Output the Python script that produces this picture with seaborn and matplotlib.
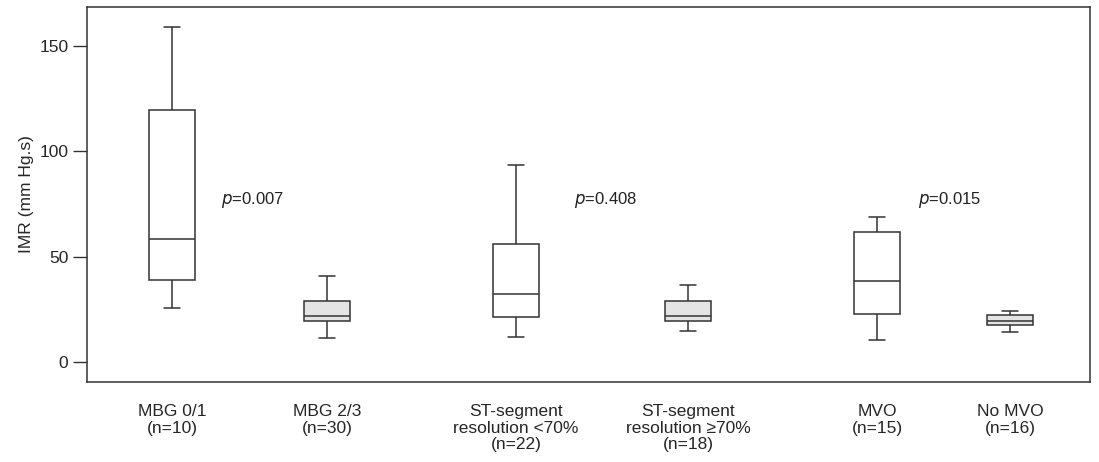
import numpy as np
import pandas as pd
import seaborn as sns
import matplotlib
matplotlib.use("Agg")
import matplotlib.pyplot as plt

# Five-number summaries: whisker low, Q1, median, Q3, whisker high
groups = ["MBG 0/1", "MBG 2/3", "ST <70%", "ST >=70%", "MVO", "No MVO"]
labels = ["MBG 0/1\n(n=10)", "MBG 2/3\n(n=30)",
          "ST-segment\nresolution <70%\n(n=22)", "ST-segment\nresolution \u226570%\n(n=18)",
          "MVO\n(n=15)", "No MVO\n(n=16)"]
kind = ["a", "b", "a", "b", "a", "b"]
mbg01 = [25.6, 38.9, 58.4, 119.6, 159.0]
mbg23 = [11.4, 19.5, 21.8, 29.0, 40.8]
st_lo = [11.9, 21.4, 32.3, 56.0, 93.5]
st_hi = [14.7, 19.5, 21.8, 29.0, 36.5]
mvo = [10.4, 22.8, 38.4, 61.7, 68.8]
no_mvo = [14.2, 17.6, 19.5, 22.3, 24.2]
pvals = ["0.007", "0.408", "0.015"]

# layout: group centres along the x axis (axis spans 0..10.03)
xpos = [0.85, 2.40, 4.29, 6.01, 7.90, 9.23]
ppos = [1.34, 4.87, 8.31]

rows = []
for g, x, k, vals in zip(groups, xpos, kind, [mbg01, mbg23, st_lo, st_hi, mvo, no_mvo]):
    for v in vals:
        rows.append({"x": x, "IMR": v, "kind": k})
df = pd.DataFrame(rows)

sns.set_style("ticks")
plt.rcParams['font.family'] = ['Liberation Sans', 'DejaVu Sans']

fig = plt.figure(figsize=(10.99, 4.62), dpi=100)
ax = fig.add_axes([0.0792, 0.1732, 0.9126, 0.8116])

line = "#333333"
sns.boxplot(data=df, x="x", y="IMR", hue="kind", native_scale=True, dodge=False,
            palette={"a": "white", "b": "#e4e4e4"}, whis=(0, 100), width=0.346,
            linecolor=line, linewidth=1.1, legend=False, ax=ax, capwidths=0.16)

for x, p in zip(ppos, pvals):
    ax.text(x, 76.9, r"$\it{p}$" + "=" + p, fontsize=12, va="center", ha="left",
            color="#222222")

ax.set_xlim(0, 10.03)
ax.set_ylim(-9.5, 168.5)
ax.set_yticks([0, 50, 100, 150])
ax.set_xticks(xpos)
ax.set_xticklabels(labels, fontsize=12.5, linespacing=1.12)
ax.tick_params(axis="x", length=0, pad=16)
ax.tick_params(axis="y", length=10, width=1, color=line, labelsize=12.5)
ax.set_xlabel("")
ax.set_ylabel("IMR (mm Hg.s)", fontsize=12.5)
for s in ax.spines.values():
    s.set_visible(True)
    s.set_color(line)
    s.set_linewidth(1.1)

fig.savefig("out.png", dpi=100)
